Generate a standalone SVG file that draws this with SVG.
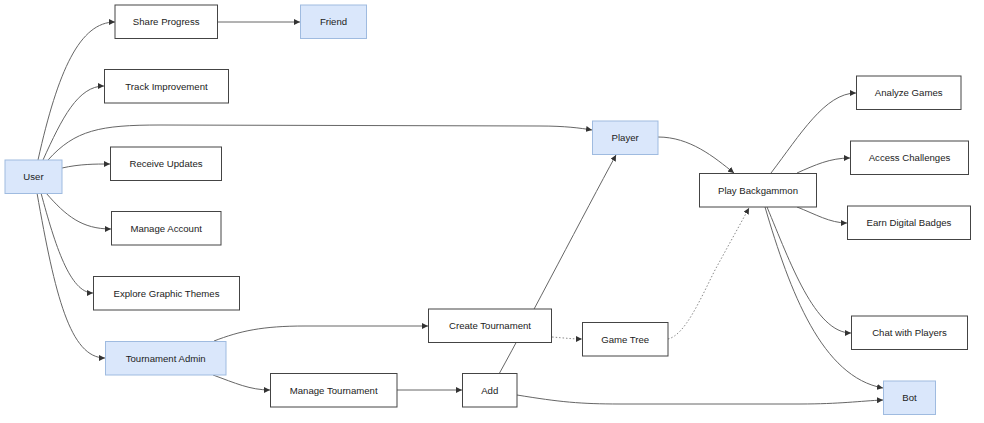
<svg xmlns="http://www.w3.org/2000/svg" width="984" height="423" viewBox="0 0 984 423">
<defs>
<style>
.n rect{fill:#ffffff;stroke:#444;stroke-width:1}
.b rect{fill:#dae7fb;stroke:#9fbbe0;stroke-width:1}
text{font-family:"Liberation Sans",Arial,sans-serif;font-size:9.6px;fill:#222;text-anchor:middle}
.e path{fill:none;stroke:#666;stroke-width:1;marker-end:url(#arr)}
.e path.d{stroke-dasharray:1.5,2;stroke:#888}
</style>
<marker id="arr" viewBox="0 0 10 10" refX="10" refY="5" markerWidth="6" markerHeight="6" orient="auto" markerUnits="userSpaceOnUse">
<path d="M0,0 L10,5 L0,10 z" fill="#333"/>
</marker>
</defs>
<rect width="984" height="423" fill="#ffffff"/>
<g id="edges" class="e">
<path d="M38,160 C58,70 80,22 115,22"/>
<path d="M43,160 C62,118 78,86 104,86"/>
<path d="M48,160 C75,130 100,125 160,125 L540,126 C565,126 580,128 592,130"/>
<path d="M62,168 C80,164 95,164 110,164"/>
<path d="M46,193 C66,216 82,229 111,229"/>
<path d="M41,193 C55,245 70,293 93,293"/>
<path d="M37,193 C55,295 70,358 105,358"/>
<path d="M217,22 L300,22"/>
<path d="M214,341 C240,331 262,326 305,326 L428,326"/>
<path d="M213,375 C235,383 250,390 270,390"/>
<path d="M397,390 L462,390"/>
<path d="M499,374 C530,318 585,212 616,155"/>
<path class="d" d="M552,337 C565,338 572,339 582,339"/>
<path class="d" d="M668,339 C685,335 700,300 715,270 L749,208"/>
<path d="M658,137 C690,137 714,157 734,173"/>
<path d="M517,395 C560,402 580,404 620,404 L800,404 C840,404 860,401 883,400"/>
<path d="M771,173 C800,135 825,93 856,93"/>
<path d="M797,173 C815,165 830,158 850,158"/>
<path d="M797,207 C815,214 830,223 847,223"/>
<path d="M767,207 C790,262 815,333 851,333"/>
<path d="M765,207 C790,292 822,377 883,388"/>
</g>
<g id="user" class="b"><rect x="5" y="160" width="57" height="33.5"/><text x="33.5" y="180">User</text></g>
<g id="share" class="n"><rect x="115" y="5" width="102.5" height="33.5"/><text x="166.2" y="25">Share Progress</text></g>
<g id="friend" class="b"><rect x="300.5" y="5" width="66" height="33.5"/><text x="333.5" y="25">Friend</text></g>
<g id="track" class="n"><rect x="104.5" y="69.5" width="124" height="33.5"/><text x="166.5" y="89.5">Track Improvement</text></g>
<g id="receive" class="n"><rect x="110.5" y="147" width="111" height="33.5"/><text x="166" y="167">Receive Updates</text></g>
<g id="account" class="n"><rect x="111.5" y="211.5" width="109.5" height="33.5"/><text x="166.2" y="231.5">Manage Account</text></g>
<g id="themes" class="n"><rect x="93.5" y="276.5" width="146" height="33.5"/><text x="166.5" y="296.5">Explore Graphic Themes</text></g>
<g id="admin" class="b"><rect x="105.5" y="341.5" width="120.5" height="33.5"/><text x="165.7" y="361.5">Tournament Admin</text></g>
<g id="manage" class="n"><rect x="270.5" y="373.5" width="126.5" height="33.5"/><text x="333.7" y="393.5">Manage Tournament</text></g>
<g id="create" class="n"><rect x="428.5" y="309" width="123" height="33.5"/><text x="490" y="329">Create Tournament</text></g>
<g id="add" class="n"><rect x="462.5" y="373.5" width="54.5" height="33.5"/><text x="489.7" y="393.5">Add</text></g>
<g id="gametree" class="n"><rect x="582.5" y="322.5" width="85.5" height="33.5"/><text x="625.2" y="342.5">Game Tree</text></g>
<g id="player" class="b"><rect x="592.5" y="121" width="65.5" height="33.5"/><text x="625.2" y="141">Player</text></g>
<g id="play" class="n"><rect x="699.5" y="173.5" width="117" height="33.5"/><text x="758" y="193.5">Play Backgammon</text></g>
<g id="analyze" class="n"><rect x="856.5" y="76" width="104.5" height="33.5"/><text x="908.7" y="96">Analyze Games</text></g>
<g id="access" class="n"><rect x="850.5" y="141" width="118" height="33.5"/><text x="909.5" y="161">Access Challenges</text></g>
<g id="badges" class="n"><rect x="847.5" y="206" width="123" height="33.5"/><text x="909" y="226">Earn Digital Badges</text></g>
<g id="chat" class="n"><rect x="851.5" y="316" width="116" height="33.5"/><text x="909.5" y="336">Chat with Players</text></g>
<g id="bot" class="b"><rect x="883.5" y="381" width="52" height="33.5"/><text x="909.5" y="401">Bot</text></g>
</svg>
